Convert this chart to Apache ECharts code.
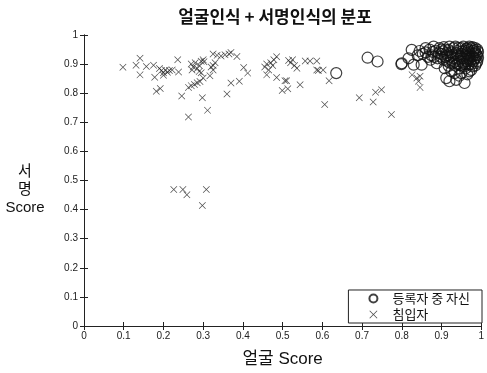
<!DOCTYPE html>
<html>
<head>
<meta charset="utf-8">
<script src="https://cdn.jsdelivr.net/npm/echarts@6/dist/echarts.min.js"></script>
<style>
  html, body { margin: 0; padding: 0; background: #fff; }
  #chart { width: 487px; height: 373px; }
</style>
</head>
<body>
<div id="chart"></div>
<script>
// 축 눈금
const xTicks = [0, 0.1, 0.2, 0.3, 0.4, 0.5, 0.6, 0.7, 0.8, 0.9, 1];
const yTicks = [0, 0.1, 0.2, 0.3, 0.4, 0.5, 0.6, 0.7, 0.8, 0.9, 1];

const seriesNames = ["등록자 중 자신", "침입자"];

// 등록자 중 자신 (얼굴 score, 서명 score)
const selfPoints = [
  [0.635, 0.869], [0.714, 0.922], [0.739, 0.909], [0.799, 0.9],
  [0.825, 0.949], [0.817, 0.92], [0.8, 0.903], [0.83, 0.898], [0.85, 0.898],
  [0.84, 0.93], [0.845, 0.945], [0.86, 0.94], [0.87, 0.95], [0.875, 0.93],
  [0.885, 0.945], [0.888, 0.903], [0.89, 0.92], [0.895, 0.955], [0.9, 0.935],
  [0.905, 0.915], [0.908, 0.886], [0.91, 0.95], [0.915, 0.93], [0.92, 0.96],
  [0.92, 0.905], [0.925, 0.94], [0.93, 0.92], [0.93, 0.955], [0.935, 0.895],
  [0.94, 0.945], [0.94, 0.93], [0.945, 0.91], [0.95, 0.955], [0.95, 0.935],
  [0.955, 0.92], [0.955, 0.9], [0.96, 0.945], [0.96, 0.93], [0.965, 0.955],
  [0.965, 0.91], [0.97, 0.94], [0.97, 0.92], [0.975, 0.955], [0.975, 0.9],
  [0.98, 0.935], [0.98, 0.945], [0.985, 0.92], [0.985, 0.955], [0.99, 0.93],
  [0.99, 0.91], [0.945, 0.885], [0.96, 0.885], [0.975, 0.88], [0.985, 0.895],
  [0.912, 0.852], [0.92, 0.841], [0.937, 0.846], [0.95, 0.869], [0.958, 0.835],
  [0.933, 0.869], [0.925, 0.875], [0.945, 0.86], [0.965, 0.865], [0.97, 0.875],
  [0.9, 0.95], [0.88, 0.96], [0.86, 0.955], [0.935, 0.96], [0.955, 0.96],
  [0.97, 0.96], [0.985, 0.94], [0.99, 0.95], [0.91, 0.925], [0.925, 0.915],
  [0.94, 0.9], [0.96, 0.9], [0.97, 0.93], [0.98, 0.91],
  [0.853, 0.935], [0.866, 0.925], [0.878, 0.942], [0.893, 0.938], [0.903, 0.944],
  [0.913, 0.938], [0.918, 0.948], [0.928, 0.932], [0.938, 0.938], [0.948, 0.926],
  [0.952, 0.944], [0.962, 0.938], [0.968, 0.948], [0.978, 0.926], [0.988, 0.934],
  [0.983, 0.948], [0.973, 0.912], [0.963, 0.918], [0.953, 0.908], [0.943, 0.918],
  [0.933, 0.908], [0.923, 0.926], [0.913, 0.912], [0.898, 0.926], [0.918, 0.894],
  [0.928, 0.902], [0.948, 0.896], [0.958, 0.892], [0.968, 0.898], [0.978, 0.892],
  [0.988, 0.904], [0.982, 0.918], [0.992, 0.922], [0.992, 0.942], [0.942, 0.956],
  [0.962, 0.952], [0.978, 0.958], [0.906, 0.958], [0.872, 0.915], [0.882, 0.925]
];

// 침입자
const intruderPoints = [
  [0.098, 0.889], [0.131, 0.896], [0.141, 0.92], [0.141, 0.863], [0.157, 0.892],
  [0.175, 0.896], [0.178, 0.855], [0.19, 0.885], [0.195, 0.878], [0.2, 0.87],
  [0.205, 0.88], [0.21, 0.872], [0.2, 0.862], [0.215, 0.878], [0.222, 0.88],
  [0.236, 0.915], [0.238, 0.873], [0.182, 0.807], [0.192, 0.816], [0.246, 0.79],
  [0.263, 0.718],
  [0.27, 0.9], [0.275, 0.89], [0.28, 0.905], [0.272, 0.88], [0.285, 0.885],
  [0.29, 0.895], [0.295, 0.91], [0.3, 0.915], [0.302, 0.908], [0.29, 0.875],
  [0.295, 0.87],
  [0.263, 0.82], [0.27, 0.826], [0.278, 0.83], [0.285, 0.836], [0.292, 0.84],
  [0.3, 0.852],
  [0.298, 0.784], [0.311, 0.741], [0.317, 0.86], [0.32, 0.89], [0.325, 0.895],
  [0.33, 0.905], [0.325, 0.88],
  [0.325, 0.935], [0.335, 0.93], [0.345, 0.928], [0.355, 0.932], [0.365, 0.935],
  [0.37, 0.94], [0.385, 0.926],
  [0.37, 0.835], [0.36, 0.797], [0.391, 0.841], [0.402, 0.888], [0.412, 0.869],
  [0.455, 0.89], [0.46, 0.9], [0.47, 0.905], [0.478, 0.915], [0.485, 0.925],
  [0.475, 0.895], [0.465, 0.88], [0.46, 0.863], [0.485, 0.854], [0.506, 0.843],
  [0.499, 0.809],
  [0.515, 0.912], [0.52, 0.905], [0.525, 0.915], [0.53, 0.895], [0.536, 0.886],
  [0.51, 0.843], [0.513, 0.815], [0.544, 0.829],
  [0.557, 0.911], [0.569, 0.911], [0.586, 0.911], [0.586, 0.88], [0.59, 0.878],
  [0.602, 0.88], [0.617, 0.843], [0.606, 0.761],
  [0.693, 0.784], [0.728, 0.77], [0.734, 0.803], [0.749, 0.812], [0.774, 0.727],
  [0.826, 0.863], [0.838, 0.852], [0.846, 0.858], [0.842, 0.841], [0.846, 0.82],
  [0.226, 0.469], [0.249, 0.469], [0.259, 0.451], [0.308, 0.469], [0.298, 0.414]
];

const crossPath = "path://M0,0.7L0.7,0L5,4.3L9.3,0L10,0.7L5.7,5L10,9.3L9.3,10L5,5.7L0.7,10L0,9.3L4.3,5Z";
const numFont = "Liberation Sans";
const mixFont = "'Liberation Sans', 'Noto Sans CJK KR'";
const korFont = "'Noto Sans CJK KR'";

const chart = echarts.init(document.getElementById("chart"));

const baseAxis = {
  min: 0,
  max: 1,
  interval: 0.1,
  axisLine: { show: true, lineStyle: { color: "#222", width: 1 } },
  axisTick: { show: true, inside: true, length: 4, lineStyle: { color: "#222" } },
  splitLine: { show: false }
};

chart.setOption({
  backgroundColor: "#fff",
  animation: false,
  title: {
    text: "얼굴인식 + 서명인식의 분포",
    left: 270,
    top: 3,
    textAlign: "center",
    textStyle: { fontFamily: korFont, fontSize: 17, fontWeight: "bold", color: "#111" }
  },
  // 세로축 제목 (MATLAB 식 가로쓰기)
  graphic: [{
    type: "text",
    x: 25,
    y: 163,
    style: {
      text: "서\n명\nScore",
      align: "center",
      lineHeight: 18,
      fontFamily: mixFont,
      fontSize: 15,
      fill: "#111"
    }
  }],
  grid: { left: 84, top: 35, width: 403, height: 293 },
  legend: {
    orient: "vertical",
    right: 5,
    bottom: 50,
    itemWidth: 8,
    itemHeight: 8,
    itemGap: 3,
    padding: [2, 12, 2, 20],
    borderColor: "#222",
    borderWidth: 1,
    backgroundColor: "#fff",
    textStyle: { fontFamily: korFont, fontSize: 13, color: "#111", padding: [0, 0, 0, 10] },
    data: seriesNames
  },
  xAxis: [
    Object.assign({}, baseAxis, {
      type: "value",
      position: "bottom",
      name: "얼굴 Score",
      nameLocation: "middle",
      nameGap: 25,
      nameTextStyle: { fontFamily: mixFont, fontSize: 17, color: "#111" },
      axisLabel: {
        fontFamily: numFont, fontSize: 10, color: "#222", margin: 5,
        formatter: v => String(xTicks.find(t => Math.abs(t - v) < 1e-6) ?? v)
      }
    }),
    Object.assign({}, baseAxis, {
      type: "value",
      position: "top",
      axisLabel: { show: false }
    })
  ],
  yAxis: [
    Object.assign({}, baseAxis, {
      type: "value",
      position: "left",
      axisLabel: {
        fontFamily: numFont, fontSize: 10, color: "#222", margin: 6,
        formatter: v => String(yTicks.find(t => Math.abs(t - v) < 1e-6) ?? v)
      }
    }),
    Object.assign({}, baseAxis, {
      type: "value",
      position: "right",
      axisLabel: { show: false }
    })
  ],
  series: [
    {
      name: seriesNames[0],
      type: "scatter",
      xAxisIndex: 0,
      yAxisIndex: 0,
      symbol: "circle",
      symbolSize: 11,
      itemStyle: { color: "rgba(0,0,0,0)", borderColor: "#111", borderWidth: 1.2 },
      data: selfPoints
    },
    {
      name: seriesNames[1],
      type: "scatter",
      xAxisIndex: 0,
      yAxisIndex: 0,
      symbol: crossPath,
      symbolSize: 7,
      itemStyle: { color: "#222" },
      data: intruderPoints
    }
  ]
});
</script>
</body>
</html>
